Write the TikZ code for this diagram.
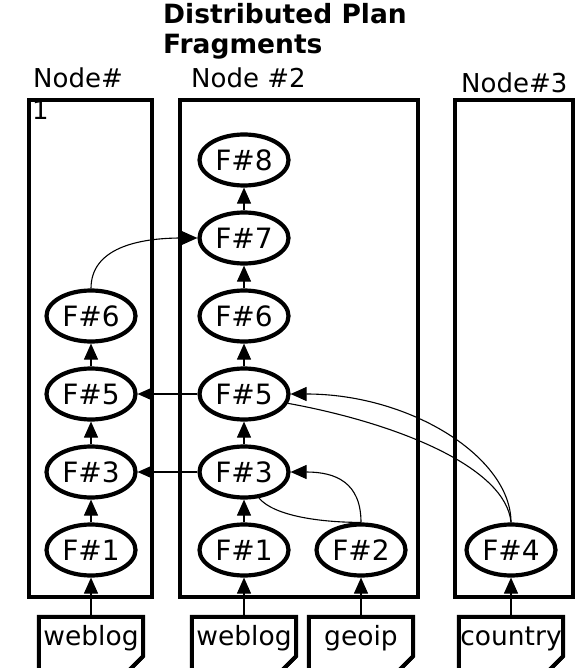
\documentclass[tikz,border=0pt]{standalone}
\usepackage{fontspec}
\setmainfont{DejaVu Sans}
\usetikzlibrary{positioning,shapes.geometric,arrows.meta}

\begin{document}
\begin{tikzpicture}[x=1pt,y=-1pt,node distance=78pt,
  frag/.style={ellipse,draw,line width=4.2pt,minimum width=89pt,minimum height=51pt,inner sep=0pt,font=\fontsize{28}{32}\selectfont},
  doc/.style={anchor=base,minimum width=104pt,inner xsep=0pt,inner ysep=7pt,text height=21pt,text depth=21pt,font=\fontsize{26.5}{30}\selectfont},
  docline/.style={line width=4pt,line join=miter},
  cluster/.style={draw,line width=4pt},
  clabel/.style={anchor=base west,inner sep=0pt,font=\fontsize{26}{30}\selectfont},
  title/.style={anchor=base west,inner sep=0pt,font=\fontsize{26.5}{30}\selectfont\bfseries},
  flow/.style={-{Triangle[length=16pt,width=14pt]},line width=1.1pt},
  link/.style={line width=1.1pt}]

\useasboundingbox (0,0) rectangle (581,668);

% clusters
\draw[cluster] (29,100) rectangle (152,597);
\draw[cluster] (180,100) rectangle (418,597);
\draw[cluster] (455,100) rectangle (573,597);

\node (title1) [title] at (163,24) {Distributed Plan};
\node (title2) [title] at (163,54) {Fragments};
\node (lab1) [clabel] at (33,88) {Node\#};
\node (lab1b) [clabel] at (32,120) {1};
\node (lab2) [clabel] at (191,88) {Node \#2};
\node (lab3) [clabel] at (461,93) {Node\#3};

% node 1
\node (a1) [frag] at (91,550) {F\#1};
\node (a3) [frag,above of=a1] {F\#3};
\node (a5) [frag,above of=a3] {F\#5};
\node (a6) [frag,above of=a5] {F\#6};

% node 2
\node (b1) [frag] at (244,550) {F\#1};
\node (b3) [frag,above of=b1] {F\#3};
\node (b5) [frag,above of=b3] {F\#5};
\node (b6) [frag,above of=b5] {F\#6};
\node (b7) [frag,above of=b6] {F\#7};
\node (b8) [frag,above of=b7] {F\#8};
\node (b2) [frag] at (361,550) {F\#2};

% node 3
\node (c4) [frag] at (511,550) {F\#4};

% inputs
\node (d1) [doc] at (91,645) {weblog};
\node (d2) [doc] at (244,645) {weblog};
\node (d3) [doc] at (361,645) {geoip};
\node (d4) [doc] at (511,645) {country};

\foreach \d in {d1,d2,d3,d4} {
  \draw[docline] (\d.north west) -- (\d.north east) -- ([yshift=17pt]\d.south east)
    -- ([xshift=-17pt]\d.south east) -- (\d.south west) -- cycle;
  \draw[docline] ([yshift=17pt]\d.south east) -- ([xshift=-6pt,yshift=11pt]\d.south east)
    -- ([xshift=-17pt]\d.south east);
}

\draw[flow] (d1) -- (a1);
\draw[flow] (d2) -- (b1);
\draw[flow] (d3) -- (b2);
\draw[flow] (d4) -- (c4);

\foreach \s/\t in {a1/a3,a3/a5,a5/a6,b1/b3,b3/b5,b5/b6,b6/b7,b7/b8}
  \draw[flow] (\s) -- (\t);

\draw[flow] (b5) -- (a5);
\draw[flow] (b3) -- (a3);
\draw[flow] (a6.north) .. controls +(0,-40) and +(-60,0) .. (b7.west);

\draw[flow] (b2.north) .. controls +(0,-40) and +(45,0) .. (b3.east);
\draw[link] (b3.-60) .. controls +(15,18) and +(-40,0) .. (b2.north);

\draw[flow] (c4.north) .. controls +(0,-65) and +(120,0) .. (b5.east);
\draw[link] (c4.north) .. controls +(-5,-55) and +(110,20) .. (b5.-12);

\end{tikzpicture}
\end{document}
